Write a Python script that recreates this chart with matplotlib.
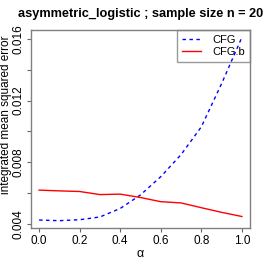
import numpy as np
import matplotlib
matplotlib.use("Agg")
import matplotlib.pyplot as plt

alpha = [0.0, 0.1, 0.2, 0.3, 0.4, 0.5, 0.6, 0.7, 0.8, 0.9, 1.0]
cfg = [0.00426, 0.00422, 0.00428, 0.00446, 0.00501, 0.00589, 0.00707, 0.0085, 0.01030, 0.01310, 0.01610]
cfg_b = [0.00620, 0.00615, 0.00611, 0.00591, 0.00594, 0.00572, 0.00545, 0.00537, 0.00506, 0.00476, 0.00449]

yticks = [0.004, 0.006, 0.008, 0.010, 0.012, 0.014, 0.016]
ylabels = ['0.004', '', '0.008', '', '0.012', '', '0.016']
xticks = [0.0, 0.2, 0.4, 0.6, 0.8, 1.0]
xlabels = ['0.0', '0.2', '0.4', '0.6', '0.8', '1.0']

plt.rcParams['font.family'] = ['Liberation Sans', 'DejaVu Sans']

fig = plt.figure(figsize=(2.66, 2.66), dpi=100)
ax = fig.add_axes([31/266, 1-228/266, (250-31)/266, (228-30)/266])

ax.plot(alpha, cfg, color='blue', lw=1.0, linestyle=(0, (2.5, 2.5)), label='CFG')
ax.plot(alpha, cfg_b, color='red', lw=1.0, label='CFG.b')
ax.margins(x=0.04, y=0.04)

ax.set_xticks(xticks)
ax.set_xticklabels(xlabels, fontsize=8.5)
ax.set_yticks(yticks)
ax.set_yticklabels(ylabels, fontsize=8.5, rotation=90, va='center')
ax.tick_params(direction='out', length=3, width=0.8, color='#666666', pad=2)
ax.tick_params(axis='y', pad=1.5)

for s in ax.spines.values():
    s.set_color('#808080')
    s.set_linewidth(1.0)

ax.set_xlabel('α', fontsize=9, labelpad=1)
ax.set_ylabel('integrated mean squared error', fontsize=8.5)
ax.yaxis.set_label_coords(-0.088, 0.57)
ax.set_title('asymmetric_logistic ; sample size n = 20', fontsize=9.2,
             fontweight='bold', pad=9)

leg = ax.legend(loc='upper right', fontsize=8, frameon=True, fancybox=False,
                handlelength=1.7, handletextpad=1.0, borderaxespad=0,
                borderpad=0.45, labelspacing=0.2, facecolor='none')
leg.get_frame().set_edgecolor('#808080')
leg.get_frame().set_linewidth(1.0)
leg.set_zorder(0)

fig.savefig('out.png', dpi=100)
